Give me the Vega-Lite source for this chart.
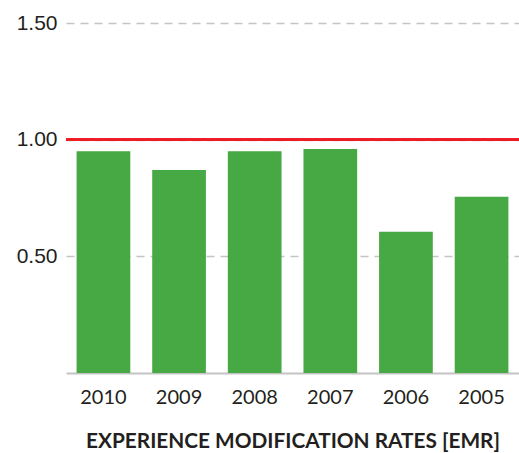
{
  "$schema": "https://vega.github.io/schema/vega-lite/v6.json",
  "width": 453,
  "height": 350,
  "autosize": "none",
  "padding": {"left": 66, "top": 23, "right": 0, "bottom": 80},
  "background": "white",
  "config": {"view": {"stroke": null}},
  "data": {"values": [
    {"year": "2010", "emr": 0.95},
    {"year": "2009", "emr": 0.87},
    {"year": "2008", "emr": 0.95},
    {"year": "2007", "emr": 0.96},
    {"year": "2006", "emr": 0.605},
    {"year": "2005", "emr": 0.755}
  ]},
  "layer": [
    {
      "mark": {"type": "bar", "color": "#46a943"},
      "encoding": {
        "x": {
          "field": "year", "type": "nominal", "sort": null,
          "scale": {"paddingInner": 0.29, "paddingOuter": 0.14},
          "axis": {
            "title": "EXPERIENCE MODIFICATION RATES [EMR]",
            "titleFont": "Lato", "titleFontSize": 20.8, "titleFontWeight": "bold", "titleColor": "#231f20",
            "titlePadding": 24,
            "labelFont": "Lato", "labelFontSize": 20, "labelColor": "#231f20", "labelPadding": 14,
            "labelAngle": 0,
            "ticks": false,
            "domainColor": "#c4c4c4", "domainWidth": 2
          }
        },
        "y": {
          "field": "emr", "type": "quantitative",
          "scale": {"domain": [0, 1.5], "nice": false},
          "axis": {
            "title": null,
            "values": [0.5, 1, 1.5],
            "format": ".2f",
            "labelFont": "Liberation Sans", "labelFontSize": 21, "labelColor": "#231f20", "labelPadding": 9,
            "ticks": false, "domain": false,
            "grid": true, "gridColor": "#c4c4c4", "gridDash": [8, 6], "gridWidth": 1.6
          }
        }
      }
    },
    {
      "mark": {"type": "rule", "color": "#ed1c24", "strokeWidth": 2.2},
      "encoding": {"y": {"datum": 1}}
    }
  ]
}
